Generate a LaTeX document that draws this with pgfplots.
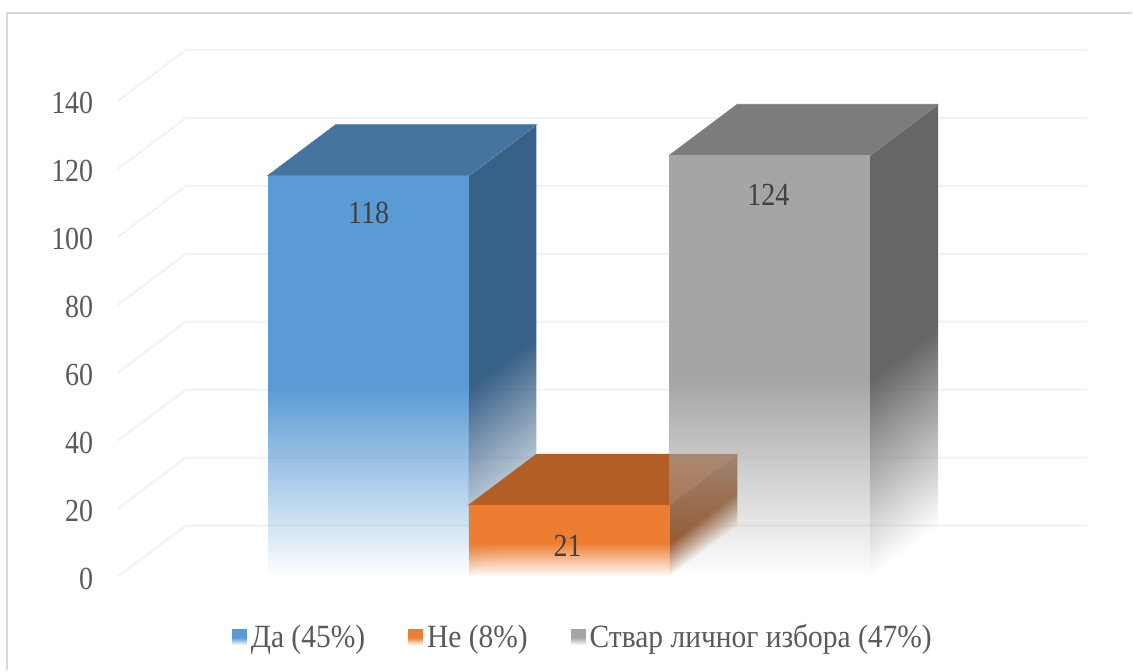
\documentclass[border=0pt]{standalone}
\usepackage{fontspec}
\setmainfont{Liberation Serif}
\usepackage{pgfplots}
\pgfplotsset{compat=1.18}
\usetikzlibrary{fadings}

\definecolor{blueF}{HTML}{5B9BD5}
\definecolor{blueT}{HTML}{44749F}
\definecolor{blueS}{HTML}{386187}
\definecolor{orangeF}{HTML}{ED7D31}
\definecolor{orangeT}{HTML}{B25E25}
\definecolor{orangeS}{HTML}{934D1E}
\definecolor{grayF}{HTML}{A5A5A5}
\definecolor{grayT}{HTML}{7C7C7C}
\definecolor{grayS}{HTML}{666666}
\definecolor{gridc}{HTML}{F2F2F2}

% white = solid, black = gone; the path's box takes the middle 25bp to 75bp
\pgfdeclareverticalshading{barfadeshade}{100bp}{color(0bp)=(black); color(25bp)=(black); color(48.5bp)=(white); color(100bp)=(white)}
\pgfdeclarefading{barfade}{\pgfuseshading{barfadeshade}}

\tikzset{
  front/.style={fill=#1, draw=none, path fading=barfade},
  side/.style n args={3}{fill=#1, draw=none, path fading=barfade, fading transform={yslant=#2, yscale=#3}},
  topface/.style={fill=#1, draw=#1, line width=0.6pt},
}
% the reference's text is a bit taller than it is wide
\newcommand{\tall}[2][1.15]{\scalebox{1}[#1]{#2}}

\begin{document}
\begin{tikzpicture}
\begin{axis}[
    x=1pt, y=3.4pt,
    xmin=118, xmax=1088, ymin=0, ymax=140,
    clip=false,
    axis line style={draw=none},
    tick style={draw=none},
    xtick=\empty,
    ytick={0,20,...,140},
    /pgf/number format/assume math mode=true,
    yticklabel={\tall{\pgfmathprintnumber{\tick}}},
    yticklabel style={font=\fontsize{28}{32}\selectfont, text=black!65, inner sep=0pt, anchor=east, xshift=-24.5pt, yshift=-2.5pt},
    legend columns=-1,
    legend style={at={(0.1175,-0.1275)}, anchor=west, draw=none, fill=none, inner sep=0pt,
      font=\fontsize{29.5}{32}\selectfont, text=black!65,
      /tikz/every even column/.append style={column sep=41pt},
      /tikz/every odd column/.append style={column sep=2pt}},
    legend image code/.code={\fill[#1] (0pt,-8pt) rectangle (15pt,8pt);},
]
% page and frame
\addplot[draw=none, forget plot] coordinates {(0,-27.65) (1133,-27.65) (1133,169.7) (0,169.7)} --cycle;
\addplot[draw=black!15, line width=2pt, forget plot] coordinates {(7.5,-27.65) (7.5,165.9) (1133,165.9)};

% walls, one line for each tick
\addplot[draw=gridc, line width=2pt, forget plot] coordinates {(118,0) (186,15) (1088,15)};
\addplot[draw=gridc, line width=2pt, forget plot] coordinates {(118,20) (186,35) (1088,35)};
\addplot[draw=gridc, line width=2pt, forget plot] coordinates {(118,40) (186,55) (1088,55)};
\addplot[draw=gridc, line width=2pt, forget plot] coordinates {(118,60) (186,75) (1088,75)};
\addplot[draw=gridc, line width=2pt, forget plot] coordinates {(118,80) (186,95) (1088,95)};
\addplot[draw=gridc, line width=2pt, forget plot] coordinates {(118,100) (186,115) (1088,115)};
\addplot[draw=gridc, line width=2pt, forget plot] coordinates {(118,120) (186,135) (1088,135)};
\addplot[draw=gridc, line width=2pt, forget plot] coordinates {(118,140) (186,155) (1088,155)};

% Da = 118
\addplot[side={blueS}{0.1128}{0.8872}, forget plot] coordinates {(469,0) (537,15) (537,133) (469,118)} --cycle;
\addplot[topface=blueT, forget plot] coordinates {(268,118) (469,118) (537,133) (336,133)} --cycle;
\addplot[front=blueF] coordinates {(268,0) (469,0) (469,118) (268,118)} --cycle;
\addlegendentry{\tall[1.1]{Да (45\%)}}

% Ne = 21
\addplot[side={orangeS}{0.4167}{0.5833}, forget plot] coordinates {(670,0) (738,15) (738,36) (670,21)} --cycle;
\addplot[topface=orangeT, forget plot] coordinates {(469,21) (670,21) (738,36) (537,36)} --cycle;
\addplot[front=orangeF] coordinates {(469,0) (670,0) (670,21) (469,21)} --cycle;
\addlegendentry{\tall[1.1]{Не (8\%)}}

% Stvar = 124
\addplot[side={grayS}{0.1079}{0.8921}, forget plot] coordinates {(871,0) (939,15) (939,139) (871,124)} --cycle;
\addplot[topface=grayT, forget plot] coordinates {(670,124) (871,124) (939,139) (738,139)} --cycle;
\addplot[front=grayF] coordinates {(670,0) (871,0) (871,124) (670,124)} --cycle;
\addlegendentry{\tall[1.1]{Ствар личног избора (47\%)}}

% value labels
\addplot[only marks, mark=none, forget plot, point meta=explicit symbolic,
    nodes near coords={\tall{\pgfplotspointmeta}}, nodes near coords align={center},
    every node near coord/.append style={font=\fontsize{28}{32}\selectfont, text=black!75}]
  coordinates {(369,107)[118] (568,9.1)[21] (769,112.4)[124]};
\end{axis}
\end{tikzpicture}
\end{document}
